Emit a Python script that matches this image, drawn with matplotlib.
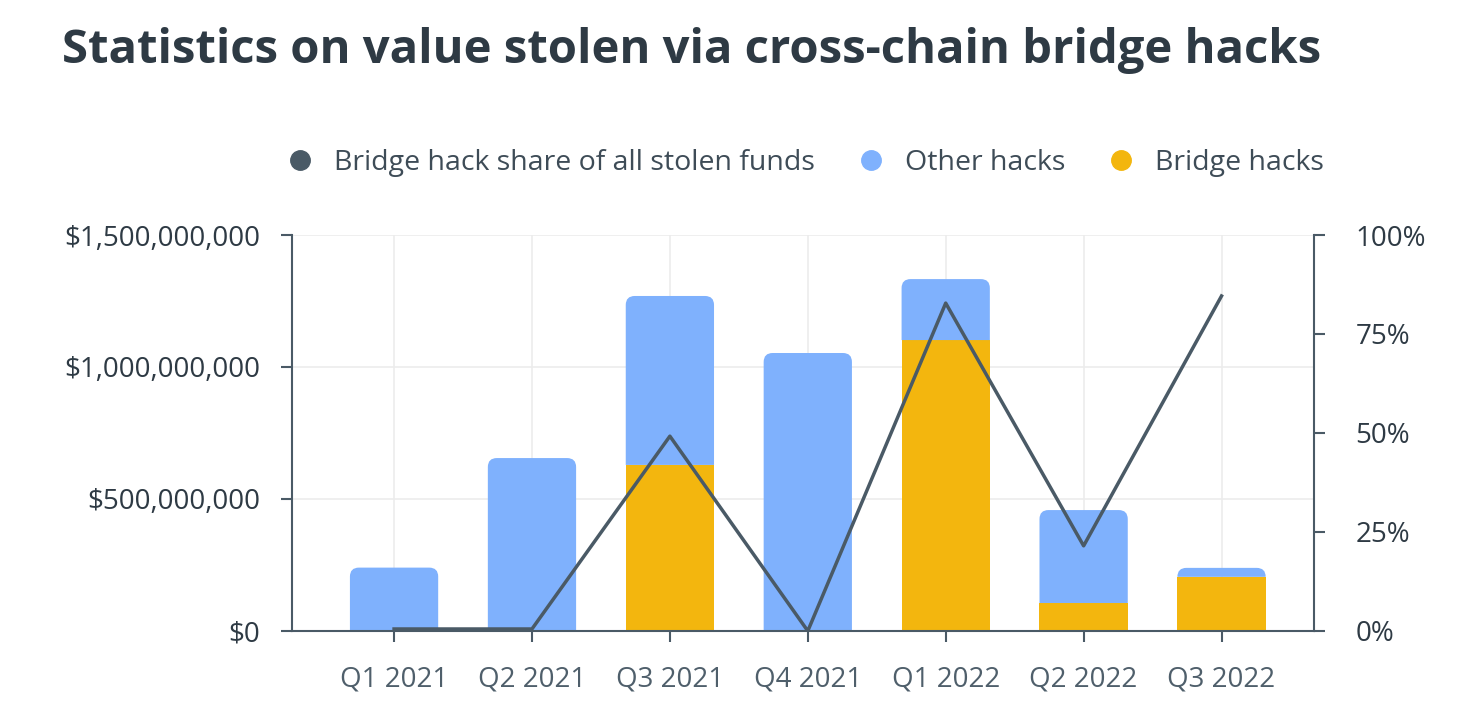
import matplotlib.pyplot as plt
from matplotlib.lines import Line2D
from matplotlib.patches import PathPatch
from matplotlib.path import Path
from matplotlib.ticker import FuncFormatter

quarters = ["Q1 2021", "Q2 2021", "Q3 2021", "Q4 2021", "Q1 2022", "Q2 2022", "Q3 2022"]
bridge_hacks = [0, 0, 629e6, 0, 1102e6, 106e6, 205e6]
other_hacks = [240e6, 655e6, 640e6, 1053e6, 231e6, 352e6, 34e6]
bridge_share = [0.5, 0.5, 49.2, 0.0, 82.8, 21.5, 84.6]

blue = "#7fb1fd"
yellow = "#f3b60e"
dark = "#4a5a66"
text_col = "#2e3a44"
grid_col = "#ececec"

plt.rcParams["font.family"] = ["Open Sans", "DejaVu Sans"]

fig = plt.figure(figsize=(14.77, 7.26), dpi=100)
ax = fig.add_axes([0.1977, 0.1309, 0.6919, 0.5454])
ax2 = ax.twinx()

x = list(range(len(quarters)))
ax.bar(x, bridge_hacks, width=0.64, color=yellow, zorder=2)
tops = ax.bar(x, other_hacks, width=0.64, bottom=bridge_hacks, color=blue, zorder=2)

ax.set_xlim(-0.74, 6.67)
ax.set_ylim(0, 1.5e9)


def rounded_top(rect, r_px=9):
    # swap a bar for one with rounded top corners (radius in pixels)
    (px0, py0), (px1, py1) = ax.transData.transform([(0, 0), (1, 1e9)])
    rx = r_px / (px1 - px0)
    ry = r_px / (py1 - py0) * 1e9
    x0, y0 = rect.get_x(), rect.get_y()
    x1, y1 = x0 + rect.get_width(), y0 + rect.get_height()
    ry = min(ry, rect.get_height())
    verts = [(x0, y0), (x0, y1 - ry), (x0, y1), (x0 + rx, y1),
             (x1 - rx, y1), (x1, y1), (x1, y1 - ry), (x1, y0), (x0, y0)]
    codes = [Path.MOVETO, Path.LINETO, Path.CURVE3, Path.CURVE3,
             Path.LINETO, Path.CURVE3, Path.CURVE3, Path.LINETO, Path.CLOSEPOLY]
    rect.set_visible(False)
    ax.add_patch(PathPatch(Path(verts, codes), facecolor=rect.get_facecolor(),
                           edgecolor="none", zorder=2))


for rect in tops:
    rounded_top(rect)

ax.set_yticks([0, 5e8, 1e9, 1.5e9])
ax.yaxis.set_major_formatter(FuncFormatter(lambda v, p: "${:,.0f}".format(v)))
ax.set_xticks(x)
ax.set_xticklabels(quarters)
ax.grid(True, color=grid_col, linewidth=1.2, zorder=0)
ax.set_axisbelow(True)

ax2.plot(x, bridge_share, color=dark, linewidth=2.5, zorder=3)
ax2.set_ylim(0, 100)
ax2.set_yticks([0, 25, 50, 75, 100])
ax2.set_yticklabels(["0%", "25%", "50%", "75%", "100%"])

for a in (ax, ax2):
    a.spines["top"].set_visible(False)
    for s in ("left", "right", "bottom"):
        a.spines[s].set_color(dark)
        a.spines[s].set_linewidth(1.5)
    a.tick_params(colors=dark, labelcolor=text_col, labelsize=20, length=8, width=1.5, pad=15)
ax.spines["right"].set_visible(False)
ax2.spines["left"].set_visible(False)
ax2.spines["bottom"].set_visible(False)
ax.tick_params(axis="x", labelcolor="#4f5f6b", pad=17)
ax2.tick_params(pad=22)

fig.text(0.042, 0.93, "Statistics on value stolen via cross-chain bridge hacks",
         fontsize=34, fontweight="bold", color=text_col, va="center", ha="left")

handles = [
    Line2D([], [], marker="o", linestyle="", markersize=14, color=dark),
    Line2D([], [], marker="o", linestyle="", markersize=14, color=blue),
    Line2D([], [], marker="o", linestyle="", markersize=14, color=yellow),
]
labels = ["Bridge hack share of all stolen funds", "Other hacks", "Bridge hacks"]
leg = fig.legend(handles, labels, loc="center", bbox_to_anchor=(0.545, 0.776), ncol=3,
                 frameon=False, fontsize=20.5, handlelength=1.0, handletextpad=0.7,
                 columnspacing=1.45)
for t in leg.get_texts():
    t.set_color("#3e4c57")

fig.savefig("out.png", dpi=100)
